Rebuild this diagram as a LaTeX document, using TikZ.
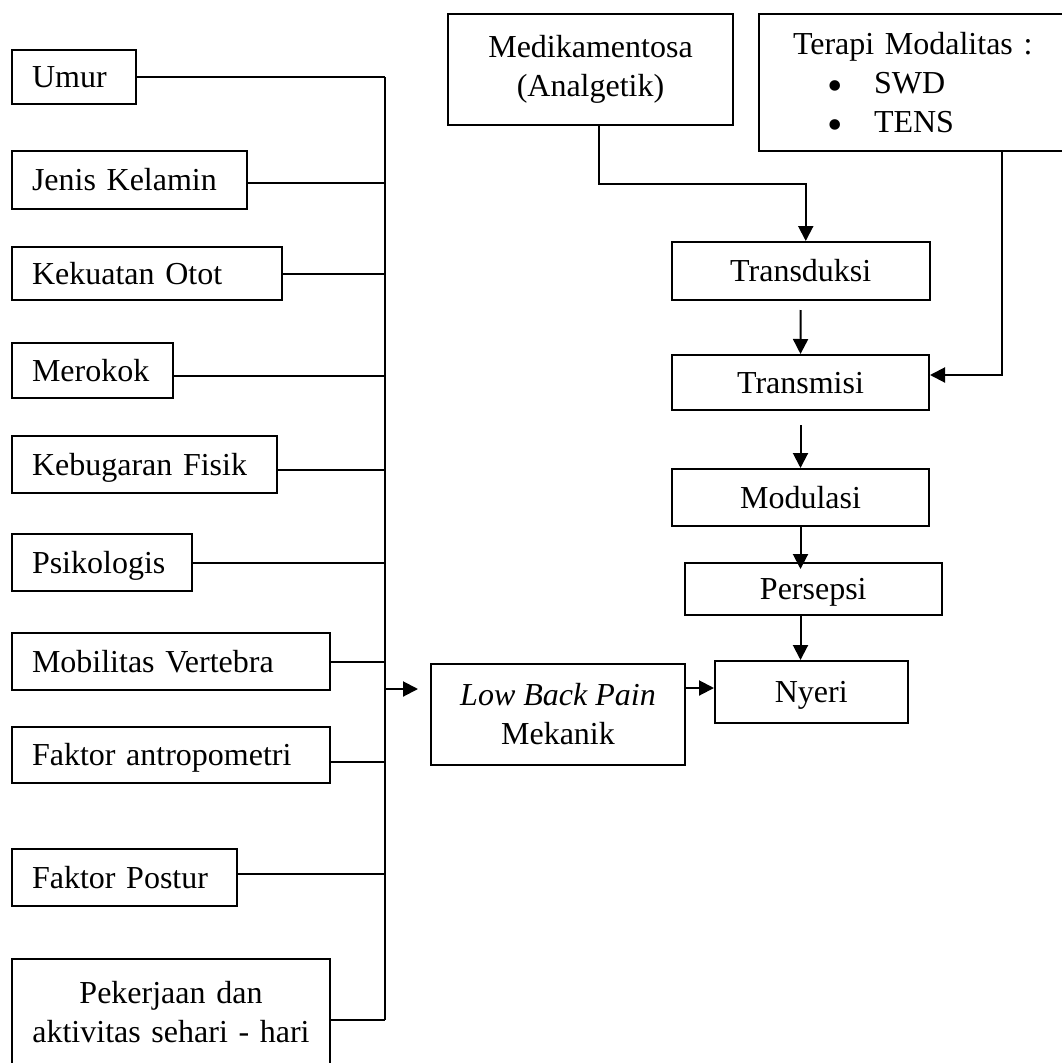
\documentclass[tikz,border=0pt]{standalone}
\usepackage{fontspec}
\setmainfont{Liberation Serif}
\usetikzlibrary{arrows.meta}
\newcommand{\butir}{\makebox[81pt][l]{\hspace*{34pt}\raisebox{-7pt}[0pt][0pt]{\fontsize{44}{39}\selectfont\textbullet}}}
\begin{document}
\begin{tikzpicture}[x=1pt,y=-1pt, line width=2pt, >={Triangle[length=15pt,width=15pt]},
	font=\fontsize{32}{39}\selectfont,
	box/.style={draw, inner sep=0pt},
	faktor/.style={box, anchor=west, align=left, inner xsep=20pt, text height=21pt, text depth=0pt},
	tahap/.style={box, text height=21pt, text depth=0pt}]
	\useasboundingbox (0,0) rectangle (1062,1063);
	% faktor risiko
	\node[faktor, text width=84pt, minimum height=54pt] (umur) at (11,77) {Umur};
	\node[faktor, text width=195pt, minimum height=58pt] (kelamin) at (11,180) {Jenis Kelamin};
	\node[faktor, text width=230pt, minimum height=53pt] (otot) at (11,273.5) {Kekuatan Otot};
	\node[faktor, text width=121pt, minimum height=55pt] (merokok) at (11,370.5) {Merokok};
	\node[faktor, text width=225pt, minimum height=57pt] (bugar) at (11,464.5) {Kebugaran Fisik};
	\node[faktor, text width=140pt, minimum height=57pt] (psiko) at (11,562.5) {Psikologis};
	\node[faktor, text width=278pt, minimum height=57pt] (mobilitas) at (11,661.5) {Mobilitas Vertebra};
	\node[faktor, text width=278pt, minimum height=56pt] (antropo) at (11,755) {Faktor antropometri};
	\node[faktor, text width=185pt, minimum height=57pt] (postur) at (11,877.5) {Faktor Postur};
	\node[box, anchor=west, align=center, text width=278pt, inner xsep=20pt, minimum height=107pt] (kerja) at (11,1012.5) {Pekerjaan dan\\aktivitas sehari - hari};
	% jalur nyeri
	\node[box, align=center, minimum width=285pt, minimum height=111pt] (obat) at (590.5,69.5) {Medikamentosa\\(Analgetik)};
	\node[box, align=left, text width=243pt, inner xsep=34pt, minimum height=137pt] (terapi) at (914.5,82.5) {Terapi Modalitas :\\ \butir SWD\\ \butir TENS};
	\node[tahap, minimum width=257.5pt, minimum height=58pt] (transduksi) at (800.75,271) {Transduksi};
	\node[tahap, minimum width=257pt, minimum height=55pt] (transmisi) at (800.5,382.5) {Transmisi};
	\node[tahap, minimum width=257pt, minimum height=57pt] (modulasi) at (800.5,497.5) {Modulasi};
	\node[tahap, minimum width=257.4pt, minimum height=52pt] (persepsi) at (813.3,589) {Persepsi};
	\node[tahap, minimum width=192.6pt, minimum height=62pt] (nyeri) at (811.3,692) {Nyeri};
	\node[box, align=center, minimum width=254pt, minimum height=101pt] (lbp) at (558,714.5) {\textit{Low Back Pain}\\Mekanik};
	% garis
	\coordinate (bus) at (385,77);
	\coordinate (busend) at (385,1020);
	\coordinate (masuk) at (385,689);
	\foreach \n/\d in {umur/0, kelamin/-3, otot/0, merokok/-5.5, bugar/-5.5, psiko/0, mobilitas/0, antropo/-7, postur/3.5, kerja/-7.5}
	\draw ([yshift=\d pt]\n.east) coordinate (p) -- (p -| bus);
	\draw (bus) -- (busend);
	\draw[->, shorten >=12pt] (masuk) -- (masuk -| lbp.west);
	\draw[->] ([yshift=26.5pt]lbp.east) coordinate (q) -- (q -| nyeri.west);
	\draw[->] ([xshift=8.5pt]obat.south) -- ++(0,58) -| ([xshift=5pt]transduksi.north);
	\draw[->] ([xshift=87.5pt]terapi.south) |- ([yshift=7.5pt]transmisi.east);
	\draw[->, shorten <=9pt] (transduksi.south) -- (transmisi.north);
	\draw[->, shorten <=14pt] (transmisi.south) -- (modulasi.north);
	\draw[->, shorten >=-7pt] (modulasi.south) -- (modulasi.south |- persepsi.north);
	\draw[->] (modulasi.south |- persepsi.south) -- (modulasi.south |- nyeri.north);
\end{tikzpicture}
\end{document}
